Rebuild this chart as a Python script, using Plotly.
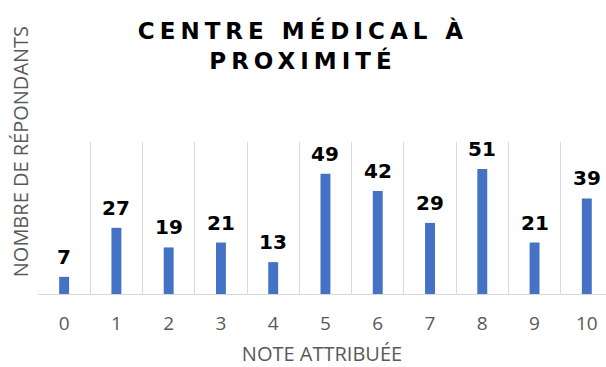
import plotly.graph_objects as go

# Survey results: rating given vs. number of respondents
notes = [0, 1, 2, 3, 4, 5, 6, 7, 8, 9, 10]
repondants = [7, 27, 19, 21, 13, 49, 42, 29, 51, 21, 39]
tick_labels = [str(n) for n in notes]

title_text = "CENTRE MÉDICAL À<br>PROXIMITÉ"
x_title = "NOTE ATTRIBUÉE"
y_title = "NOMBRE DE RÉPONDANTS"

BAR_COLOR = "#4472C4"
GRID_COLOR = "#d9d9d9"
AXIS_TEXT = "#595959"
LABEL_FONT = "DejaVu Sans"
AXIS_FONT = "Open Sans"

# vertical separators sit between the rating categories
boundaries = [n - 0.5 for n in notes] + [notes[-1] + 0.5]

fig = go.Figure()
fig.add_trace(go.Bar(
    x=notes,
    y=repondants,
    width=0.19,
    marker=dict(color=BAR_COLOR, line=dict(width=0)),
    hoverinfo="x+y",
))

# value labels above each bar
for n, v in zip(notes, repondants):
    fig.add_annotation(
        x=n, y=v, xref="x", yref="y",
        text=f"<b>{v}</b>",
        showarrow=False,
        yanchor="bottom",
        yshift=6,
        font=dict(family=LABEL_FONT, size=20, color="#000000"),
    )

# rotated y-axis title
fig.add_annotation(
    x=-0.0308, y=0.936, xref="paper", yref="paper",
    text=y_title,
    textangle=-90,
    showarrow=False,
    xanchor="center", yanchor="middle",
    font=dict(family=AXIS_FONT, size=20, color=AXIS_TEXT),
)

fig.update_layout(
    width=606,
    height=367,
    margin=dict(l=38, r=0, t=142, b=73),
    paper_bgcolor="#ffffff",
    plot_bgcolor="#ffffff",
    showlegend=False,
    title=dict(
        text=f"<b>{title_text}</b>",
        x=0.5, xref="container", xanchor="center",
        y=1 - 39 / 367, yref="container", yanchor="top",
        font=dict(family=LABEL_FONT, size=23, color="#000000"),
    ),
    xaxis=dict(
        range=[-0.5, 10.367],
        automargin=False,
        tickmode="array",
        tickvals=notes,
        ticktext=tick_labels,
        ticks="",
        ticklabelstandoff=12,
        tickfont=dict(family=AXIS_FONT, size=19, color=AXIS_TEXT),
        showgrid=False,
        zeroline=False,
        showline=True,
        linecolor=GRID_COLOR,
        linewidth=1,
        minor=dict(tickvals=boundaries, showgrid=True, gridcolor=GRID_COLOR,
                   gridwidth=1, ticks=""),
        title=dict(text=x_title, standoff=19,
                   font=dict(family=AXIS_FONT, size=20, color=AXIS_TEXT)),
        fixedrange=True,
    ),
    yaxis=dict(
        range=[0, 62],
        automargin=False,
        showgrid=False,
        zeroline=False,
        showticklabels=False,
        showline=False,
        ticks="",
        fixedrange=True,
    ),
)

# widen the title letters
spacing_js = (
    "document.querySelectorAll('.gtitle').forEach(function(t){"
    "t.style.letterSpacing='5px';});"
)

fig.write_html("out.html", post_script=spacing_js)
